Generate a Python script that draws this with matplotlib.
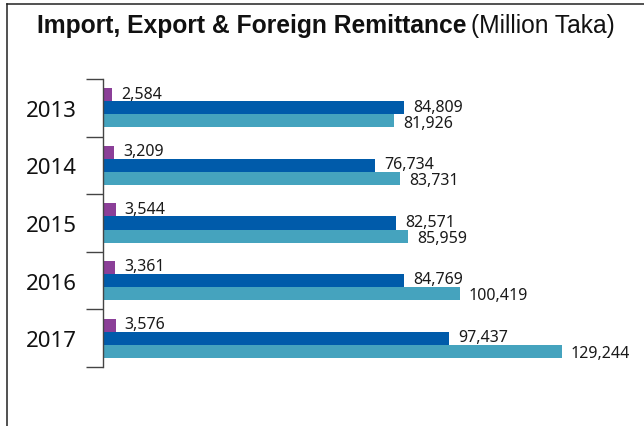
import matplotlib
matplotlib.use("Agg")
import matplotlib.pyplot as plt
from matplotlib.lines import Line2D

years = ["2013", "2014", "2015", "2016", "2017"]
remittance = [2584, 3209, 3544, 3361, 3576]
export = [84809, 76734, 82571, 84769, 97437]
imports = [81926, 83731, 85959, 100419, 129244]

series = [remittance, export, imports]
colors = ["#8B3F98", "#005BAA", "#45A3BE"]
offsets = [-0.226, 0.0, 0.226]
label_dy = [-2.0, -2.0, -4.1]   # points, baseline placement next to each bar

W, H = 644, 427
fig = plt.figure(figsize=(W / 100, H / 100), dpi=100)
plt.rcParams["font.family"] = ["Noto Sans", "DejaVu Sans"]

# frame lines along the top and left edges
fig.add_artist(Line2D([7 / W, 1], [1 - 4.5 / H] * 2, transform=fig.transFigure,
                      color="#222222", lw=1.1))
fig.add_artist(Line2D([7 / W] * 2, [0, 1 - 4.5 / H], transform=fig.transFigure,
                      color="#222222", lw=1.1))

ax = fig.add_axes([103 / W, (H - 368) / H, 517 / W, 288 / H])
bar_h = 0.226
for vals, col, off, dy in zip(series, colors, offsets, label_dy):
    ys = [i + off for i in range(len(years))]
    ax.barh(ys, vals, height=bar_h, color=col, linewidth=0)
    for y, v in zip(ys, vals):
        ax.annotate(f"{v:,}", (v, y), xytext=(6.5, dy), textcoords="offset points",
                    ha="left", va="baseline", fontsize=11.5, color="#1a1a1a",
                    annotation_clip=False)

ax.set_xlim(0, 145600)
ax.set_ylim(len(years) - 0.5, -0.5)
ax.set_xticks([])
ax.set_yticks([i - 0.5 for i in range(len(years) + 1)])
ax.set_yticklabels([])
ax.set_yticks(range(len(years)), minor=True)
ax.set_yticklabels(years, minor=True, fontsize=16, color="#111111")
ax.tick_params(axis="y", which="major", length=12.5, width=1.0, color="#444444",
               direction="out")
ax.tick_params(axis="y", which="minor", length=0, pad=19)
for s in ["top", "right", "bottom"]:
    ax.spines[s].set_visible(False)
ax.spines["left"].set_color("#444444")
ax.spines["left"].set_linewidth(1.0)

# two-part title: bold main text followed by regular unit text,
# sized together so the whole line spans x = 37..617 px
title_y = 1 - 33 / H
title_family = ["Liberation Sans", "DejaVu Sans"]
gap = 5
t1 = fig.text(37 / W, title_y, "Import, Export & Foreign Remittance",
              fontsize=18, fontweight="bold", family=title_family,
              ha="left", va="baseline", color="#111111")
t2 = fig.text(0, title_y, "(Million Taka)", fontsize=18,
              family=title_family, ha="left", va="baseline", color="#111111")
fig.canvas.draw()
r = fig.canvas.get_renderer()
w1 = t1.get_window_extent(r).width
w2 = t2.get_window_extent(r).width
size = 18 * (617 - 37 - gap) / (w1 + w2)
t1.set_fontsize(size)
t2.set_fontsize(size)
fig.canvas.draw()
bb = t1.get_window_extent(r)
t2.set_x((bb.x1 + gap) / W)

fig.savefig("out.png", dpi=100)
